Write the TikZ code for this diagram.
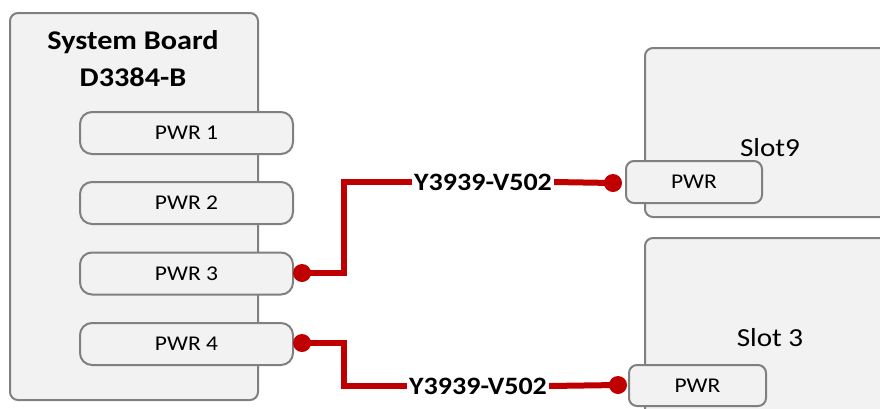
\documentclass[tikz,border=0pt]{standalone}
\usepackage{fontspec}
\setmainfont[FakeStretch=1.12]{Carlito}
\definecolor{boxfill}{HTML}{F2F2F2}
\definecolor{boxline}{HTML}{808080}
\definecolor{wirered}{HTML}{C00000}
\begin{document}
\begin{tikzpicture}[x=1pt,y=-1pt,
  panel/.style={draw=boxline,fill=boxfill,line width=2pt,rounded corners=8pt,
    inner sep=0pt,anchor=center},
  header/.style={panel,rounded corners=12pt,minimum width=213pt,minimum height=42pt,
    font=\fontsize{21}{24}\selectfont},
  slotpwr/.style={panel,rounded corners=8pt,minimum height=42pt,
    font=\fontsize{21}{24}\selectfont},
  caption/.style={font=\fontsize{26}{32}\selectfont,inner sep=0pt},
  wire/.style={draw=wirered,line width=6pt},
  wirelabel/.style={font=\bfseries\fontsize{25}{30}\selectfont,inner sep=2pt},
  joint/.style={circle,fill=wirered,inner sep=0pt,minimum size=18pt}
]
\useasboundingbox (0,0) rectangle (880,408);
\clip (0,0) rectangle (880,408);

% system board with its four power headers
\node[panel,minimum width=248pt,minimum height=387pt] (board) at (134,206.5) {};
\node[caption,font=\bfseries\fontsize{27}{32}\selectfont] (title1) at (133,42) {System Board};
\node[caption,font=\bfseries\fontsize{27}{32}\selectfont] (title2) at (133,77) {D3384-B};
\node[header] (pwr1) at (186.5,133) {PWR 1};
\node[header] (pwr2) at (186.5,203) {PWR 2};
\node[header] (pwr3) at (186.5,273.5) {PWR 3};
\node[header] (pwr4) at (186.5,344) {PWR 4};

% slot 9 card
\node[panel,minimum width=255pt,minimum height=169pt] (slotnine) at (772.5,132.5) {};
\node[caption] (slotninelabel) at (770,148) {Slot9};
\node[slotpwr,minimum width=136pt] (slotninepwr) at (694,182) {PWR};

% slot 3 card
\node[panel,minimum width=255pt,minimum height=192pt] (slotthree) at (772.5,334) {};
\node[caption] (slotthreelabel) at (770,338) {Slot 3};
\node[slotpwr,minimum width=137pt,minimum height=41pt] (slotthreepwr) at (697.5,385.5) {PWR};

% cable PWR 3 -> slot 9
\coordinate (dA) at (302,273);
\coordinate (bendA) at (344,182);
\coordinate (dB) at (613,183);
\node[wirelabel] (cableA) at (483,182) {Y3939-V502};
\draw[wire] (dA) -| (bendA) -- (cableA.west);
\draw[wire] (cableA.east) -- (dB);
\node[joint] at (dA) {};
\node[joint] at (dB) {};

% cable PWR 4 -> slot 3
\coordinate (dC) at (302,343);
\coordinate (bendC) at (344,386);
\coordinate (dD) at (618,385);
\node[wirelabel] (cableC) at (478,386) {Y3939-V502};
\draw[wire] (dC) -| (bendC) -- (cableC.west);
\draw[wire] (cableC.east) -- (dD);
\node[joint] at (dC) {};
\node[joint] at (dD) {};
\end{tikzpicture}
\end{document}
